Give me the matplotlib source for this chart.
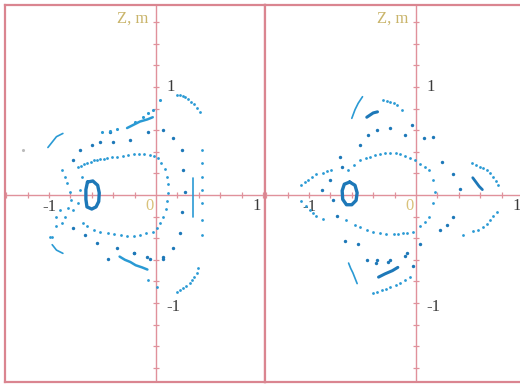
import matplotlib
matplotlib.use("Agg")
import matplotlib.pyplot as plt

# ---------------- data ----------------
# LEFT panel
L_ring_x = [-0.64, -0.59, -0.545, -0.53, -0.535, -0.56, -0.60, -0.645, -0.655, -0.655, -0.64]
L_ring_y = [0.12, 0.13, 0.09, 0.02, -0.06, -0.11, -0.13, -0.11, -0.04, 0.05, 0.12]

L_oval_x = [-0.70, -0.67, -0.64, -0.61, -0.58, -0.55, -0.52, -0.49, -0.46, -0.41, -0.36, -0.31,
            -0.26, -0.21, -0.16, -0.11, -0.06, -0.02, 0.02, 0.05, 0.08, 0.10, 0.11, 0.11, 0.10,
            0.09, 0.07, 0.04, 0.01, -0.03, -0.09, -0.15, -0.21, -0.27, -0.33, -0.39, -0.45, -0.52,
            -0.58, -0.64, -0.68]
L_oval_y = [0.27, 0.29, 0.30, 0.31, 0.32, 0.32, 0.33, 0.33, 0.34, 0.35, 0.35, 0.36,
            0.37, 0.38, 0.38, 0.38, 0.37, 0.36, 0.34, 0.30, 0.24, 0.17, 0.10, 0.02, -0.06,
            -0.13, -0.20, -0.26, -0.31, -0.34, -0.35, -0.37, -0.38, -0.38, -0.37, -0.36, -0.35, -0.34,
            -0.32, -0.29, -0.26]

L_chain_x = [-0.43, -0.07, 0.07, 0.16, 0.24, 0.25, 0.27, 0.24, 0.22, 0.16, 0.07, -0.08, -0.21,
             -0.45, -0.55, -0.66, -0.78, -0.78, -0.71, -0.60, -0.52, -0.40, -0.24,
             -0.36, -0.21, -0.06, 0.07]
L_chain_y = [0.58, 0.58, 0.60, 0.53, 0.42, 0.23, 0.03, -0.16, -0.35, -0.49, -0.57, -0.57, -0.54,
             -0.59, -0.44, -0.37, -0.31, 0.32, 0.42, 0.46, 0.49, 0.49, 0.51,
             -0.49, -0.54, -0.59, -0.59]

L_band_x = [-0.27, -0.21, -0.15, -0.08, -0.03]
L_band_y = [0.62, 0.65, 0.68, 0.70, 0.72]
L_banddots_x = [-0.50, -0.43, -0.36, -0.20, -0.12, -0.07, -0.03, 0.04]
L_banddots_y = [0.58, 0.59, 0.61, 0.68, 0.72, 0.76, 0.79, 0.88]

L_toparc_x = [0.20, 0.22, 0.25, 0.27, 0.30, 0.33, 0.36, 0.38, 0.41]
L_toparc_y = [0.93, 0.93, 0.92, 0.91, 0.89, 0.86, 0.84, 0.81, 0.77]

L_vline_x = [0.35, 0.35, 0.35, 0.35, 0.35, 0.35, 0.35, 0.35]
L_vline_y = [0.16, 0.11, 0.06, 0.01, -0.04, -0.09, -0.14, -0.20]
L_col_x = [0.43, 0.43, 0.43, 0.43, 0.43, 0.43, 0.43]
L_col_y = [0.42, 0.30, 0.17, 0.05, -0.07, -0.23, -0.37]

L_botarc_x = [0.39, 0.38, 0.36, 0.34, 0.32, 0.28, 0.25, 0.22, 0.20, 0.01, -0.07]
L_botarc_y = [-0.68, -0.72, -0.76, -0.79, -0.81, -0.84, -0.86, -0.88, -0.90, -0.85, -0.79]

L_lowband_x = [-0.34, -0.29, -0.24, -0.19, -0.13, -0.08]
L_lowband_y = [-0.57, -0.60, -0.62, -0.65, -0.67, -0.69]

L_llarc_x = [-0.97, -0.93, -0.87]
L_llarc_y = [-0.46, -0.51, -0.54]
L_ularc_x = [-1.01, -0.97, -0.93, -0.87]
L_ularc_y = [0.44, 0.49, 0.54, 0.57]

L_chaos_x = [-0.88, -0.85, -0.83, -0.80, -0.79, -0.82, -0.85, -0.88, -0.93, -0.97,
             -0.78, -0.73, -0.71, -0.69, -0.73, -0.99, -0.93, -0.90]
L_chaos_y = [0.23, 0.17, 0.11, 0.03, -0.05, -0.12, -0.20, -0.26, -0.29, -0.39,
             -0.14, -0.07, 0.05, 0.17, 0.26, -0.39, -0.20, -0.14]

# RIGHT panel
R_ring_x = [-0.62, -0.57, -0.55, -0.56, -0.60, -0.65, -0.685, -0.69, -0.67, -0.62]
R_ring_y = [0.12, 0.09, 0.02, -0.05, -0.09, -0.09, -0.04, 0.04, 0.10, 0.12]

R_oval_x = [-0.64, -0.58, -0.52, -0.47, -0.43, -0.38, -0.34, -0.29, -0.24, -0.19, -0.15, -0.10,
            -0.06, -0.01, 0.04, 0.08, 0.12, 0.16, 0.18, 0.16, 0.12, 0.08, 0.04, -0.03, -0.08,
            -0.12, -0.17, -0.21, -0.28, -0.34, -0.40, -0.46, -0.52, -0.57, -0.65]
R_oval_y = [0.23, 0.28, 0.32, 0.34, 0.35, 0.37, 0.38, 0.39, 0.39, 0.39, 0.38, 0.36,
            0.34, 0.32, 0.29, 0.26, 0.23, 0.14, 0.03, -0.07, -0.20, -0.25, -0.29, -0.34, -0.35,
            -0.35, -0.36, -0.36, -0.36, -0.35, -0.34, -0.32, -0.30, -0.28, -0.23]

R_chain_x = [-0.71, -0.52, -0.45, -0.36, -0.24, -0.10, 0.07, 0.16, 0.24, 0.35, 0.41, 0.35,
             0.29, -0.08, -0.24, -0.36, -0.46, -0.54, -0.66, -0.80, -0.78, -0.88, -0.69, -0.74,
             -0.04, 0.22, -0.37, -0.26, -0.10, -0.03, 0.04]
R_chain_y = [0.35, 0.46, 0.56, 0.60, 0.62, 0.56, 0.53, 0.54, 0.31, 0.19, 0.06, -0.20,
             -0.28, -0.54, -0.60, -0.60, -0.60, -0.45, -0.43, 0.14, -0.05, 0.05, 0.26, -0.19,
             0.65, -0.32, -0.63, -0.62, -0.56, -0.66, -0.45]

R_lwtop_x = [-1.07, -1.04, -1.01, -0.97, -0.93, -0.87, -0.83, -0.79]
R_lwtop_y = [0.09, 0.12, 0.14, 0.17, 0.19, 0.20, 0.22, 0.23]
R_lwbot_x = [-1.07, -1.03, -0.99, -0.96, -0.93, -0.87]
R_lwbot_y = [-0.06, -0.10, -0.14, -0.17, -0.19, -0.22]

R_ularc_x = [-0.60, -0.57, -0.54, -0.50]
R_ularc_y = [0.71, 0.79, 0.85, 0.91]
R_useg_x = [-0.46, -0.43, -0.40, -0.36]
R_useg_y = [0.72, 0.74, 0.76, 0.77]
R_urarc_x = [-0.31, -0.27, -0.24, -0.21, -0.18, -0.13]
R_urarc_y = [0.88, 0.87, 0.86, 0.85, 0.83, 0.79]

R_rwtop_x = [0.52, 0.56, 0.60, 0.63, 0.66, 0.69, 0.72, 0.75, 0.77]
R_rwtop_y = [0.30, 0.28, 0.26, 0.25, 0.23, 0.20, 0.17, 0.13, 0.09]
R_rwseg_x = [0.53, 0.56, 0.59, 0.62]
R_rwseg_y = [0.16, 0.12, 0.08, 0.05]
R_rwbot_x = [0.76, 0.72, 0.69, 0.66, 0.63, 0.58, 0.53, 0.44]
R_rwbot_y = [-0.16, -0.19, -0.23, -0.27, -0.30, -0.32, -0.33, -0.37]

R_lseg_x = [-0.35, -0.29, -0.22, -0.17]
R_lseg_y = [-0.76, -0.73, -0.70, -0.67]
R_llarc_x = [-0.63, -0.61, -0.59, -0.57, -0.55]
R_llarc_y = [-0.63, -0.68, -0.72, -0.77, -0.82]
R_larc_x = [-0.40, -0.36, -0.32, -0.28, -0.24, -0.19, -0.15, -0.10, -0.06]
R_larc_y = [-0.91, -0.90, -0.88, -0.87, -0.85, -0.83, -0.81, -0.79, -0.76]

x_ticks = [-1.4, -1.2, -1.0, -0.8, -0.6, -0.4, -0.2, 0.2, 0.4, 0.6, 0.8, 1.0]
y_ticks = [-1.6, -1.4, -1.2, -1.0, -0.8, -0.6, -0.4, -0.2, 0.2, 0.4, 0.6, 0.8, 1.0, 1.2, 1.4, 1.6]

# ---------------- styling ----------------
PINK = '#da8590'
AXPINK = '#e0919b'
DOT = '#2a9ad4'
DARK = '#1d78b8'
YEL = '#c9b46a'
LBL = '#3a3a3a'
SERIF = ['Liberation Serif', 'DejaVu Serif']

W, H = 520, 386
fig = plt.figure(figsize=(W / 100, H / 100), dpi=100)
fig.patch.set_facecolor('white')


def px_ax(x0, y0, x1, y1):
    return fig.add_axes([x0 / W, 1 - y1 / H, (x1 - x0) / W, (y1 - y0) / H])


axL = px_ax(5, 5, 265, 382)
axR = px_ax(265, 5, 530, 382)
axL.set_xlim(-1.411, 1.019)
axR.set_xlim(-1.411, 1.065)
for ax in (axL, axR):
    ax.set_ylim(-1.731, 1.759)
    ax.set_xticks([])
    ax.set_yticks([])
    for s in ax.spines.values():
        s.set_color(PINK)
        s.set_linewidth(1.6)
    ax.axhline(0, color=AXPINK, lw=1.0, zorder=1)
    ax.axvline(0, color=AXPINK, lw=1.0, zorder=1)
    ax.plot(x_ticks, [0] * len(x_ticks), ls='none', marker='|', ms=5, mew=0.9, color=AXPINK, zorder=1)
    ax.plot([0] * len(y_ticks), y_ticks, ls='none', marker='_', ms=5, mew=0.9, color=AXPINK, zorder=1)
    ax.text(-0.22, 1.63, 'Z, m', color=YEL, fontsize=12, family=SERIF, ha='center', va='center')
    ax.text(0.14, 1.0, '1', color=LBL, fontsize=12, family=SERIF, ha='center', va='center')
    ax.text(0.16, -1.04, '-1', color=LBL, fontsize=12, family=SERIF, ha='center', va='center')
    ax.text(-1.0, -0.11, '-1', color=LBL, fontsize=12, family=SERIF, ha='center', va='center')
    ax.text(-0.06, -0.10, '0', color='#d9c27a', fontsize=12, family=SERIF, ha='center', va='center')
    ax.text(0.94, -0.10, '1', color=LBL, fontsize=12, family=SERIF, ha='center', va='center')

axR.spines['right'].set_visible(False)


def dots(ax, xs, ys, s=4, c=DOT):
    ax.scatter(xs, ys, s=s, c=c, linewidths=0, zorder=3)


def seg(ax, xs, ys, lw=2.0, c=DOT):
    ax.plot(xs, ys, color=c, lw=lw, solid_capstyle='round', zorder=3)


# left panel
seg(axL, L_ring_x, L_ring_y, lw=2.4, c=DARK)
dots(axL, L_oval_x, L_oval_y, s=4)
dots(axL, L_chain_x, L_chain_y, s=6, c=DARK)
seg(axL, L_band_x, L_band_y, lw=1.8)
dots(axL, L_banddots_x, L_banddots_y, s=5)
dots(axL, L_toparc_x, L_toparc_y, s=4)
seg(axL, L_vline_x, L_vline_y, lw=1.2)
dots(axL, L_col_x, L_col_y, s=4)
dots(axL, L_botarc_x, L_botarc_y, s=4)
seg(axL, L_lowband_x, L_lowband_y, lw=1.8)
seg(axL, L_llarc_x, L_llarc_y, lw=1.2)
seg(axL, L_ularc_x, L_ularc_y, lw=1.2)
dots(axL, L_chaos_x, L_chaos_y, s=4)
axL.scatter([-1.24], [0.42], s=5, c='#bbbbbb', linewidths=0)

# right panel
seg(axR, R_ring_x, R_ring_y, lw=2.4, c=DARK)
dots(axR, R_oval_x, R_oval_y, s=4)
dots(axR, R_chain_x, R_chain_y, s=6, c=DARK)
dots(axR, R_lwtop_x, R_lwtop_y, s=4)
dots(axR, R_lwbot_x, R_lwbot_y, s=4)
seg(axR, R_ularc_x, R_ularc_y, lw=1.2)
seg(axR, R_useg_x, R_useg_y, lw=2.2, c=DARK)
dots(axR, R_urarc_x, R_urarc_y, s=4)
dots(axR, R_rwtop_x, R_rwtop_y, s=4)
seg(axR, R_rwseg_x, R_rwseg_y, lw=2.0, c=DARK)
dots(axR, R_rwbot_x, R_rwbot_y, s=4)
seg(axR, R_lseg_x, R_lseg_y, lw=2.2, c=DARK)
seg(axR, R_llarc_x, R_llarc_y, lw=1.2)
dots(axR, R_larc_x, R_larc_y, s=4)

fig.savefig('out.png', dpi=100, facecolor='white')
